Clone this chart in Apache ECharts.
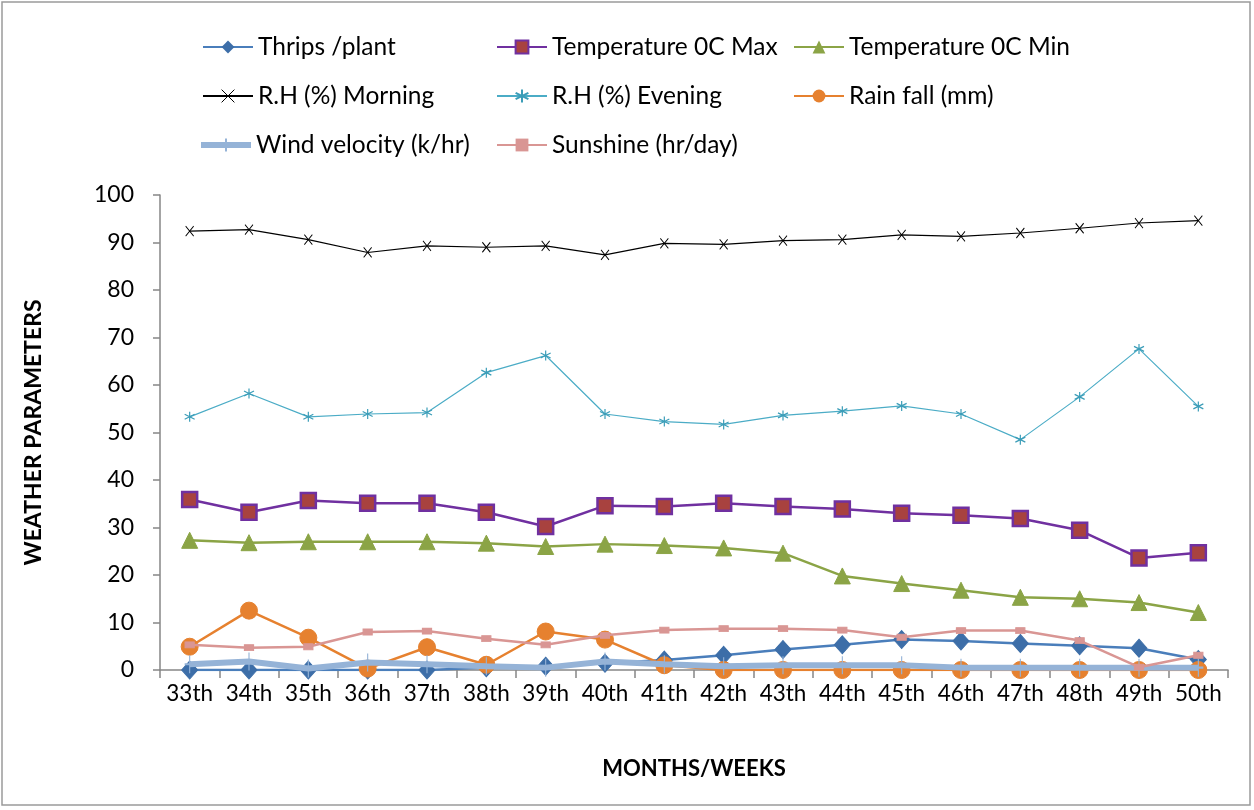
<!DOCTYPE html>
<html><head><meta charset="utf-8">
<script src="https://cdn.jsdelivr.net/npm/echarts@6/dist/echarts.min.js"></script>
<style>html,body{margin:0;padding:0;background:#fff}#c{width:1254px;height:810px}</style>
</head><body><div id="c"></div>
<script>
var weeks = ['33th','34th','35th','36th','37th','38th','39th','40th','41th','42th','43th','44th','45th','46th','47th','48th','49th','50th'];
var thrips = [0,0,0,0,0,0.5,0.8,1.4,2.1,3.1,4.3,5.3,6.4,6.1,5.6,5.1,4.6,2.2];
var tempMax = [35.9,33.2,35.7,35.1,35.1,33.2,30.2,34.6,34.4,35.1,34.4,33.9,33.0,32.6,31.9,29.4,23.6,24.7];
var tempMin = [27.3,26.8,27.0,27.0,27.0,26.7,26.0,26.5,26.2,25.7,24.6,19.8,18.2,16.8,15.3,15.0,14.2,12.1];
var rhMorning = [92.4,92.7,90.6,87.9,89.3,89.0,89.3,87.4,89.8,89.6,90.4,90.6,91.6,91.3,92.0,93.0,94.1,94.6];
var rhEvening = [53.3,58.2,53.3,53.9,54.2,62.6,66.2,53.9,52.3,51.7,53.6,54.5,55.6,53.9,48.5,57.5,67.6,55.5];
var rainFall = [4.9,12.5,6.8,0.3,4.8,1.1,8.1,6.4,1.0,0,0,0,0,0,0,0,0,0];
var wind = [1.2,1.8,0.3,1.6,1.2,0.8,0.5,1.8,1.2,0.8,1.0,1.0,1.0,0.5,0.5,0.5,0.5,0.5];
var sunshine = [5.3,4.7,4.9,8.0,8.2,6.6,5.3,7.3,8.4,8.7,8.7,8.4,6.9,8.3,8.3,6.2,0.6,3.1];
var yTicks = [0,10,20,30,40,50,60,70,80,90,100];

var F = 'Lato, "Open Sans", sans-serif';
var names = ['Thrips /plant','Temperature 0C Max','Temperature 0C Min','R.H (%) Morning','R.H (%) Evening','Rain fall (mm)','Wind velocity (k/hr)','Sunshine (hr/day)'];
var symX = 'path://M0,0L10,10M10,0L0,10';
var symAst = 'path://M5,0L5,10M0,2.5L10,7.5M0,7.5L10,2.5';
var symPlus = 'path://M5,0L5,10M0,5L10,5';

function ser(name, data, color, lw, symbol, size, itemStyle, z) {
  return {name:name, type:'line', data:data, symbol:symbol, symbolSize:size,
    showAllSymbol:true, z:z, lineStyle:{color:color, width:lw},
    itemStyle:itemStyle, animation:false};
}
var series = [
  ser(names[0], thrips, '#4A7EBB', 2.5, 'diamond', [16,18], {color:'#3D6EA8', borderColor:'#3D6EA8'}, 2),
  ser(names[1], tempMax, '#7030A0', 2.5, 'rect', 15, {color:'#A8423F', borderColor:'#7030A0', borderWidth:2.5}, 3),
  ser(names[2], tempMin, '#8BA446', 2.5, 'triangle', 16, {color:'#8BA446', borderColor:'#8BA446'}, 4),
  ser(names[3], rhMorning, '#000000', 1.2, symX, [8,10], {color:'#000', borderColor:'#000', borderWidth:1}, 5),
  ser(names[4], rhEvening, '#4BACC6', 1.2, symAst, [10,10], {color:'#4BACC6', borderColor:'#3B9DB8', borderWidth:1.2}, 6),
  ser(names[5], rainFall, '#E6812F', 2.5, 'circle', 17, {color:'#E6812F', borderColor:'#E6812F'}, 7),
  ser(names[6], wind, '#95B3D7', 6, symPlus, [10,18], {color:'#95B3D7', borderColor:'#95B3D7', borderWidth:1.5}, 8),
  ser(names[7], sunshine, '#D99694', 2.5, 'rect', [9,6], {color:'#D99694', borderColor:'#D99694'}, 9)
];

var legendPos = [[202,47],[496,47],[793,47],[202,96],[496,96],[793,96],[198,145],[496,145]];
var legends = names.map(function(n,i){
  var item = {name:n};
  if (i === 6) item.lineStyle = {width:6, color:'#95B3D7'};
  if (i === 3) item.itemStyle = {borderWidth:1};
  return {data:[item], left:legendPos[i][0], top:legendPos[i][1]-14, padding:0, itemWidth:50, itemHeight:16, itemGap:0,
    textStyle:{fontFamily:F, fontSize:24.5, color:'#000', lineHeight:28}, selectedMode:false};
});

var chart = echarts.init(document.getElementById('c'), null, {renderer:'canvas'});
chart.setOption({
  backgroundColor:'#fff',
  animation:false,
  graphic:[{type:'rect', shape:{x:2, y:2, width:1248, height:803}, style:{fill:'none', stroke:'#9a9a9a', lineWidth:1.5}, z:-1}],
  legend: legends,
  grid:{left:160, right:26, top:195, bottom:140, containLabel:false},
  xAxis:{type:'category', data:weeks, boundaryGap:true,
    name:'MONTHS/WEEKS', nameLocation:'middle', nameGap:88,
    nameTextStyle:{fontFamily:F, fontSize:22, fontWeight:'bold', color:'#000'},
    axisLine:{lineStyle:{color:'#868686', width:1.5}},
    axisTick:{show:true, length:8, lineStyle:{color:'#868686', width:1.5}, alignWithLabel:false},
    axisLabel:{fontFamily:F, fontSize:22.5, color:'#000', margin:12, interval:0}},
  yAxis:{type:'value', min:0, max:100, interval:10,
    name:'WEATHER PARAMETERS', nameLocation:'middle', nameGap:115, nameRotate:90,
    nameTextStyle:{fontFamily:F, fontSize:23, fontWeight:'bold', color:'#000'},
    axisLine:{show:true, lineStyle:{color:'#868686', width:1.5}},
    axisTick:{show:true, length:7, lineStyle:{color:'#868686', width:1.5}},
    splitLine:{show:false},
    axisLabel:{fontFamily:F, fontSize:23, color:'#000', margin:26,
      formatter:function(v){ return yTicks.indexOf(v) >= 0 ? String(v) : ''; }}},
  series: series
});
</script></body></html>
